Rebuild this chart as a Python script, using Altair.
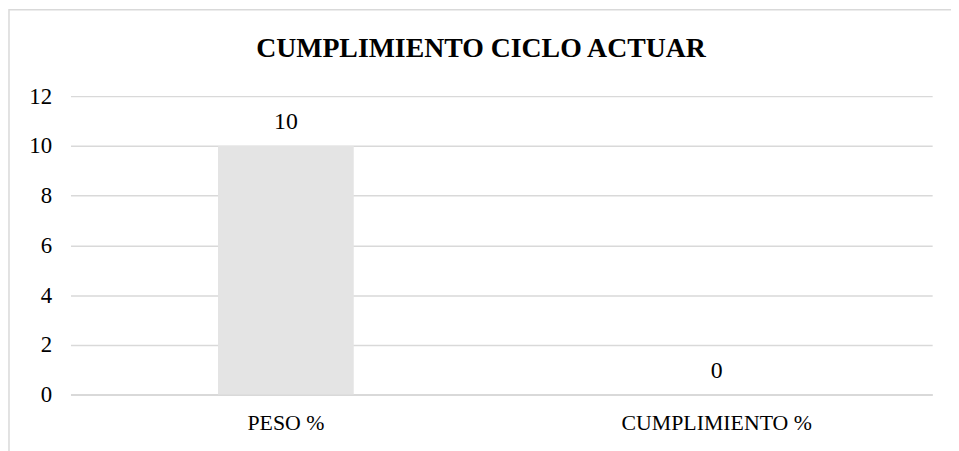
import altair as alt
import pandas as pd

categories = ["PESO %", "CUMPLIMIENTO %"]
values = [10, 0]
y_ticks = [0, 2, 4, 6, 8, 10, 12]
title_text = "CUMPLIMIENTO CICLO ACTUAR"

df = pd.DataFrame({"cat": categories, "val": values})

FONT = "'Times New Roman', 'Liberation Serif', 'DejaVu Serif', serif"
W, H = 869, 301

base = alt.Chart(df).encode(
    x=alt.X("cat:N", sort=categories, title=None,
            scale=alt.Scale(paddingInner=0.685, paddingOuter=0.3425),
            axis=alt.Axis(labelAngle=0, labelFont=FONT, labelFontSize=22,
                          labelColor="#000000", ticks=False, domain=True,
                          labelLimit=0,
                          domainColor="#d9d9d9", domainWidth=2, labelPadding=18)),
    y=alt.Y("val:Q", title=None,
            scale=alt.Scale(domain=[0, 12]),
            axis=alt.Axis(values=y_ticks, labelFont=FONT, labelFontSize=23,
                          labelColor="#000000", ticks=False, domain=False,
                          gridColor="#d9d9d9", gridWidth=1.5, labelPadding=19)),
)

bars = base.mark_bar(color="#e4e4e4")
labels = base.mark_text(font=FONT, fontSize=24, color="#000000",
                        baseline="alphabetic", dy=-17).encode(text="val:Q")

border = alt.Chart(df).mark_rect(fill=None, stroke="#d9d9d9", strokeWidth=1.5).encode(
    x=alt.value(-62), x2=alt.value(W + 40),
    y=alt.value(-87), y2=alt.value(H + 80),
).transform_filter(alt.datum.cat == categories[0])

title = alt.Chart(df).mark_text(font=FONT, fontSize=28, fontWeight="bold",
                                color="#000000", baseline="alphabetic",
                                align="center").encode(
    x=alt.value(485 - 71), y=alt.value(56 - 95), text=alt.value(title_text),
).transform_filter(alt.datum.cat == categories[0])

chart = alt.layer(border, bars, labels, title).properties(
    width=W, height=H,
    autosize=alt.AutoSizeParams(type="none"),
    padding={"left": 63, "top": 87, "right": 19, "bottom": 55},
).configure_view(stroke=None)

chart.save("out.html", embed_options={"renderer": "svg", "actions": False})
